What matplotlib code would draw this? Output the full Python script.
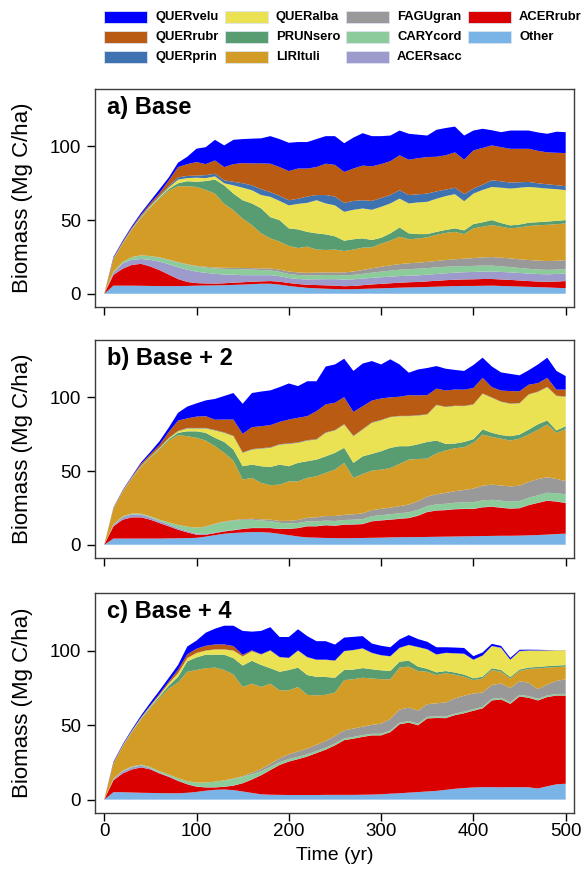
import matplotlib
matplotlib.use('Agg')
import matplotlib.pyplot as plt
from matplotlib.patches import Rectangle

plt.rcParams['font.family'] = ['Liberation Sans', 'DejaVu Sans']

years = list(range(0, 510, 10))

# stacking order, bottom to top
species = ['Other', 'ACERrubr', 'ACERsacc', 'CARYcord', 'FAGUgran', 'LIRItuli',
           'PRUNsero', 'QUERalba', 'QUERprin', 'QUERrubr', 'QUERvelu']
colors = ['#7ab3e6', '#db0000', '#9d9acc', '#8ccb9a', '#999999', '#d39c26',
          '#589d71', '#ebe253', '#3f72b0', '#ba5b14', '#0000ff']

# ---- a) Base (Mg C/ha, every 10 yr) ----
a_other = [0, 5.5, 5.5, 5.5, 5.4, 5.3, 5.2, 5.2, 5.2, 5.3,
           5.5, 5.6, 5.7, 5.8, 6.0, 6.2, 6.5, 6.8, 6.8, 6.2,
           5.3, 4.6, 4.0, 3.7, 3.4, 3.2, 3.0, 3.1, 3.3, 3.5,
           3.7, 3.9, 4.1, 4.3, 4.4, 4.6, 4.8, 5.0, 5.2, 5.3,
           5.3, 5.4, 5.5, 5.3, 5.1, 4.9, 4.7, 4.5, 4.3, 4.0,
           3.8]
a_acerrubr = [0, 7.3, 11.5, 14.1, 14.9, 13.2, 10.8, 7.8, 4.8, 2.7,
              1.7, 1.4, 1.2, 1.3, 1.5, 1.6, 1.7, 1.6, 1.8, 2.0,
              2.0, 2.0, 2.1, 2.2, 2.3, 2.3, 2.1, 2.2, 2.5, 2.8,
              3.0, 3.2, 3.4, 3.5, 3.6, 3.8, 4.0, 4.2, 4.3, 4.4,
              4.5, 4.6, 4.5, 4.4, 4.3, 4.1, 3.9, 3.8, 3.8, 4.3,
              4.8]
a_acersacc = [0, 1.5, 3.7, 3.4, 3.3, 4.5, 5.8, 7.0, 8.0, 8.3,
              7.8, 7.2, 6.6, 6.0, 5.4, 4.8, 4.4, 4.2, 4.0, 3.7,
              3.4, 3.4, 3.6, 3.9, 4.2, 4.4, 4.5, 4.5, 4.5, 4.5,
              4.5, 4.5, 4.5, 4.5, 4.5, 4.5, 4.6, 4.7, 4.8, 4.9,
              5.0, 5.1, 5.1, 5.1, 5.1, 5.1, 5.1, 5.1, 5.1, 5.1,
              5.1]
a_carycord = [0, 0.6, 1.0, 1.8, 2.4, 2.5, 2.7, 3.0, 3.2, 3.4,
              3.5, 3.6, 3.7, 3.8, 3.9, 4.0, 3.8, 3.5, 3.2, 3.0,
              2.7, 2.7, 2.7, 2.8, 2.8, 2.8, 2.9, 3.0, 3.2, 3.5,
              3.8, 4.1, 4.3, 4.4, 4.5, 4.5, 4.5, 4.4, 4.3, 4.2,
              4.1, 4.0, 4.0, 3.8, 3.6, 3.4, 3.2, 3.1, 3.0, 3.0,
              3.0]
a_fagugran = [0, 0, 0, 0.1, 0.1, 0.1, 0.2, 0.2, 0.3, 0.3,
              0.4, 0.5, 0.6, 0.7, 0.8, 0.9, 1.0, 1.1, 1.3, 1.5,
              1.7, 1.8, 1.8, 1.8, 1.8, 1.8, 2.0, 2.3, 2.6, 3.0,
              3.3, 3.6, 3.8, 4.0, 4.1, 4.2, 4.4, 4.6, 4.8, 5.0,
              5.3, 5.6, 5.8, 5.9, 5.9, 5.9, 6.0, 6.0, 6.0, 6.0,
              6.1]
a_lirituli = [0, 8.6, 12.3, 18.6, 25.4, 32.9, 39.8, 46.8, 51.5, 53.0,
              53.6, 52.2, 50.2, 43.4, 39.1, 33.5, 29.2, 23.8, 20.5, 19.0,
              17.4, 16.5, 17.8, 15.6, 15.2, 15.5, 14.5, 14.9, 15.2, 14.2,
              15.7, 16.7, 18.6, 16.3, 16.4, 16.7, 17.7, 18.4, 18.6, 16.7,
              20.2, 20.8, 21.7, 21.0, 20.4, 21.6, 23.1, 24.0, 24.6, 24.8,
              24.9]
a_prunsero = [0, 0.2, 0.2, 0.3, 0.5, 0.5, 0.7, 1.2, 2.0, 3.4,
              3.5, 6.0, 9.5, 12.6, 11.3, 12.5, 14.7, 17.0, 14.4, 14.6,
              11.9, 12.7, 10.0, 11.0, 10.6, 9.0, 7.0, 7.0, 6.3, 5.0,
              4.0, 5.0, 6.3, 4.0, 3.0, 2.2, 2.0, 2.0, 2.4, 2.5,
              2.9, 3.0, 3.4, 2.5, 2.0, 2.0, 2.2, 2.1, 2.2, 2.3,
              2.3]
a_queralba = [0, 0.1, 0.2, 0.2, 0.3, 0.5, 0.8, 1.0, 2.5, 2.1,
              2.8, 2.0, 2.2, 1.4, 5.6, 8.5, 9.0, 9.0, 13.8, 13.0,
              15.6, 17.3, 19.7, 22.5, 21.0, 21.0, 19.6, 20.0, 20.3, 20.5,
              21.0, 20.3, 19.6, 20.3, 21.5, 21.9, 22.5, 23.0, 23.2, 19.8,
              20.7, 22.0, 22.5, 24.0, 25.0, 25.0, 24.3, 23.4, 22.4, 21.5,
              20.3]
a_querprin = [0, 0.2, 0.2, 0.3, 0.4, 0.5, 0.7, 1.0, 1.5, 1.5,
              1.4, 2.0, 1.8, 2.0, 2.4, 3.0, 3.3, 4.0, 3.2, 3.5,
              3.5, 3.5, 4.3, 3.5, 5.7, 6.0, 6.1, 6.0, 5.6, 6.0,
              6.0, 5.7, 5.7, 5.7, 5.5, 5.6, 5.0, 4.4, 4.4, 4.8,
              3.4, 3.5, 4.5, 4.3, 4.1, 3.7, 3.4, 3.0, 2.9, 2.7,
              2.7]
a_querrubr = [0, 0.4, 0.6, 0.7, 1.0, 1.5, 1.8, 3.8, 7.0, 8.0,
              9.2, 7.5, 9.0, 9.0, 12.0, 13.7, 14.9, 17.5, 19.3, 19.5,
              19.8, 20.5, 19.0, 19.0, 21.3, 21.5, 21.0, 22.0, 23.5, 23.5,
              23.0, 23.0, 23.7, 24.0, 24.5, 24.8, 23.5, 23.3, 24.0, 23.4,
              25.9, 25.0, 23.7, 23.2, 22.9, 22.7, 22.5, 22.0, 21.7, 22.0,
              22.5]
a_quervelu = [0, 0.6, 0.8, 1.0, 1.3, 1.5, 2.5, 2.0, 3.0, 5.0,
              9.1, 11.5, 14.0, 14.7, 16.5, 16.3, 16.8, 17.0, 18.7, 19.0,
              19.2, 18.0, 18.0, 19.0, 18.7, 19.5, 19.5, 21.0, 22.0, 20.5,
              19.0, 17.4, 16.8, 17.6, 16.0, 14.6, 18.3, 18.5, 17.5, 16.4,
              13.5, 13.0, 10.3, 10.2, 12.4, 12.4, 12.4, 12.5, 12.6, 14.3,
              14.2]

# ---- b) Base + 2 ----
b_other = [0, 4.2, 4.2, 4.2, 4.2, 4.2, 4.2, 4.3, 4.4, 4.5,
           4.7, 5.5, 6.5, 7.5, 8.0, 8.3, 8.6, 8.6, 8.2, 7.4,
           6.5, 5.6, 5.0, 4.8, 4.6, 4.5, 4.4, 4.5, 4.6, 4.7,
           4.8, 5.0, 5.1, 5.2, 5.2, 5.3, 5.4, 5.5, 5.6, 5.7,
           5.8, 5.9, 6.0, 6.1, 6.1, 6.2, 6.4, 6.6, 6.9, 7.3,
           7.5]
b_acerrubr = [0, 8.3, 12.8, 14.4, 14.4, 12.8, 10.5, 8.2, 5.8, 3.9,
              2.1, 1.3, 1.4, 1.5, 1.8, 2.4, 2.7, 2.7, 3.1, 3.3,
              4.2, 5.7, 7.5, 7.7, 8.6, 8.4, 9.2, 9.2, 9.4, 11.2,
              11.7, 12.0, 12.5, 12.9, 14.5, 16.9, 17.8, 18.0, 18.5, 18.6,
              18.5, 19.5, 19.8, 19.0, 18.4, 18.6, 20.5, 21.8, 23.0, 22.0,
              20.8]
b_acersacc = [0, 1.0, 1.8, 2.0, 1.8, 1.5, 1.3, 1.2, 1.0, 0.8,
              0.7, 0.5, 0.4, 0.3, 0.3, 0.2, 0.2, 0.2, 0.2, 0.2,
              0.2, 0.2, 0.2, 0.2, 0.2, 0.2, 0.2, 0.2, 0.2, 0.2,
              0.2, 0.2, 0.2, 0.2, 0.2, 0.2, 0.2, 0.2, 0.2, 0.2,
              0.2, 0.2, 0.2, 0.2, 0.2, 0.2, 0.2, 0.2, 0.2, 0.2,
              0.2]
b_carycord = [0, 0.3, 0.5, 0.6, 0.7, 0.8, 1.0, 1.5, 2.2, 3.0,
              4.0, 5.0, 5.8, 6.2, 6.2, 6.0, 5.5, 5.0, 4.5, 4.0,
              3.6, 3.3, 3.2, 3.1, 3.0, 3.0, 3.0, 3.1, 3.2, 3.3,
              3.4, 3.5, 3.6, 3.7, 3.8, 3.9, 4.0, 4.1, 4.2, 4.3,
              4.4, 4.5, 4.5, 4.6, 4.6, 4.7, 4.8, 5.0, 5.2, 5.5,
              5.7]
b_fagugran = [0, 0, 0, 0, 0, 0, 0, 0, 0.1, 0.1,
              0.1, 0.1, 0.2, 0.3, 0.4, 0.5, 0.6, 0.8, 1.0, 1.3,
              1.7, 2.0, 2.4, 2.8, 3.2, 3.4, 3.5, 3.7, 3.9, 4.1,
              4.3, 4.5, 4.8, 5.3, 5.9, 6.4, 6.9, 7.4, 7.9, 8.4,
              9.2, 10.0, 10.3, 10.3, 10.3, 10.4, 10.8, 11.0, 10.5, 9.7,
              9.0]
b_lirituli = [0, 10.7, 16.7, 23.8, 31.9, 39.7, 47.6, 55.5, 60.9, 61.4,
              61.0, 58.3, 52.6, 46.6, 40.3, 26.8, 27.8, 24.7, 23.4, 24.6,
              26.8, 26.2, 27.1, 27.9, 29.2, 31.5, 35.3, 24.7, 26.7, 26.8,
              26.6, 26.8, 28.7, 30.5, 28.6, 25.8, 27.7, 28.8, 29.1, 29.0,
              31.1, 34.7, 32.4, 31.8, 31.1, 31.9, 32.1, 33.4, 35.8, 31.3,
              35.3]
b_prunsero = [0, 0.1, 0.2, 0.3, 0.4, 0.5, 0.7, 1.0, 1.6, 3.3,
              4.4, 5.3, 5.7, 7.4, 7.6, 9.1, 9.0, 11.3, 12.4, 13.6,
              10.3, 12.6, 11.3, 11.3, 11.2, 11.4, 10.2, 10.2, 12.0, 11.4,
              12.5, 13.8, 12.0, 9.1, 10.0, 11.3, 8.7, 4.5, 3.2, 3.6,
              2.5, 3.5, 2.8, 2.5, 3.0, 2.8, 3.4, 3.8, 2.8, 1.6,
              2.0]
b_queralba = [0, 0.1, 0.1, 0.2, 0.2, 0.3, 0.4, 0.6, 1.0, 2.0,
              2.0, 3.0, 5.0, 6.2, 9.1, 9.1, 10.2, 12.0, 13.0, 13.6,
              15.2, 13.6, 14.0, 13.6, 16.0, 15.2, 15.8, 18.1, 18.2, 21.1,
              21.0, 20.8, 20.4, 20.4, 19.5, 18.6, 24.1, 25.0, 25.5, 24.3,
              23.5, 24.2, 23.8, 22.5, 22.0, 21.2, 23.8, 22.0, 22.6, 23.4,
              20.0]
b_querprin = [0, 0.1, 0.1, 0.2, 0.2, 0.2, 0.2, 0.3, 0.3, 0.3,
              0.3, 0.3, 0.3, 0.3, 0.3, 0.3, 0.3, 0.3, 0.3, 0.3,
              0.3, 0.3, 0.3, 0.3, 0.3, 0.3, 0.3, 0.3, 0.3, 0.3,
              0.3, 0.2, 0.2, 0.2, 0.2, 0.2, 0.2, 0.2, 0.2, 0.2,
              0.2, 0.2, 0.2, 0.2, 0.2, 0.2, 0.2, 0.2, 0.2, 0.2,
              0.2]
b_querrubr = [0, 0.3, 0.4, 0.5, 1.2, 1.5, 2.0, 4.0, 7.0, 6.5,
              7.7, 8.0, 7.0, 8.7, 11.0, 12.6, 14.9, 14.9, 15.1, 15.1,
              16.2, 16.7, 16.3, 19.0, 19.0, 18.5, 18.3, 16.2, 15.5, 14.8,
              14.5, 13.3, 13.0, 14.0, 13.5, 13.0, 11.0, 11.0, 11.0, 11.0,
              11.0, 10.6, 7.0, 7.5, 8.4, 8.0, 6.5, 5.7, 6.1, 4.1,
              4.6]
b_quervelu = [0, 0.2, 0.3, 0.5, 1.0, 1.5, 2.5, 3.0, 5.3, 8.0,
              9.0, 10.7, 14.1, 16.0, 18.0, 20.4, 23.2, 23.5, 23.6, 23.6,
              24.5, 21.5, 23.7, 20.3, 25.7, 26.0, 26.1, 27.8, 29.0, 26.8,
              23.1, 25.8, 21.9, 15.3, 17.6, 18.4, 15.3, 14.8, 13.3, 12.7,
              15.6, 13.7, 14.0, 12.3, 11.7, 10.8, 9.8, 12.7, 13.7, 12.7,
              9.2]

# ---- c) Base + 4 ----
c_other = [0, 5.0, 5.0, 4.8, 4.6, 4.5, 4.4, 4.3, 4.3, 4.6,
           5.2, 6.0, 6.6, 6.8, 6.4, 5.5, 4.5, 3.6, 3.3, 3.2,
           3.1, 3.1, 3.1, 3.1, 3.2, 3.2, 3.2, 3.2, 3.3, 3.4,
           3.6, 4.0, 4.3, 4.7, 5.1, 5.5, 5.9, 6.6, 7.3, 7.8,
           8.2, 8.4, 8.4, 8.3, 8.4, 8.4, 8.3, 7.5, 9.0, 10.3,
           10.7]
c_acerrubr = [0, 8.0, 12.6, 15.5, 17.1, 15.8, 13.2, 11.0, 8.3, 5.7,
              3.5, 2.2, 1.6, 1.8, 3.0, 5.5, 9.0, 12.8, 16.6, 20.1,
              22.5, 24.1, 25.9, 28.2, 30.4, 33.3, 36.8, 37.8, 38.9, 39.8,
              39.6, 41.4, 46.4, 47.1, 44.9, 49.1, 49.0, 48.2, 49.5, 50.3,
              51.6, 53.0, 58.3, 59.1, 56.0, 61.0, 60.2, 59.2, 60.0, 59.7,
              59.3]
c_acersacc = [0, 0.8, 1.5, 1.5, 1.2, 0.8, 0.5, 0.4, 0.3, 0.2,
              0.2, 0.1, 0.1, 0.1, 0.1, 0.1, 0.1, 0.1, 0.1, 0.1,
              0.1, 0.1, 0.1, 0.1, 0.1, 0.1, 0.1, 0.1, 0.1, 0.1,
              0.1, 0.1, 0.1, 0.1, 0.1, 0.1, 0.1, 0.1, 0.1, 0.1,
              0.1, 0.1, 0.1, 0.1, 0.1, 0.1, 0.1, 0.1, 0.1, 0.1,
              0.1]
c_carycord = [0, 0.3, 0.4, 0.5, 0.6, 0.8, 1.0, 1.2, 1.5, 2.0,
              2.6, 3.2, 3.8, 4.3, 4.5, 4.2, 3.5, 2.6, 2.0, 1.8,
              1.6, 1.5, 1.4, 1.3, 1.2, 1.2, 1.1, 1.1, 1.1, 1.0,
              1.0, 1.0, 1.0, 1.0, 1.0, 1.0, 1.0, 1.0, 1.0, 1.0,
              1.0, 1.0, 1.0, 1.0, 1.0, 1.0, 1.0, 1.0, 1.0, 1.0,
              1.0]
c_fagugran = [0, 0, 0, 0, 0, 0, 0, 0, 0, 0,
              0, 0, 0, 0, 0.2, 0.5, 1.0, 1.5, 2.0, 2.6,
              3.2, 3.6, 3.9, 4.2, 4.6, 5.0, 5.4, 5.6, 5.7, 6.0,
              6.8, 7.8, 8.8, 9.0, 8.8, 8.5, 8.8, 9.5, 10.2, 10.7,
              10.5, 9.6, 9.4, 9.6, 9.6, 9.2, 9.0, 6.5, 7.3, 8.8,
              9.8]
c_lirituli = [0, 10.4, 16.3, 23.1, 30.5, 39.5, 49.2, 57.8, 64.4, 73.5,
              75.7, 76.9, 76.7, 74.2, 70.0, 60.0, 59.9, 55.2, 54.0, 45.7,
              43.0, 43.4, 36.1, 33.2, 31.0, 29.2, 33.8, 33.2, 32.9, 31.2,
              29.9, 26.7, 28.2, 27.6, 26.6, 21.8, 19.0, 19.6, 15.9, 12.7,
              9.0, 9.4, 10.0, 7.9, 6.4, 6.8, 9.3, 14.0, 11.4, 9.3,
              8.6]
c_prunsero = [0, 0.2, 0.3, 0.4, 0.6, 0.8, 1.2, 2.0, 3.8, 7.0,
              8.5, 9.1, 8.7, 10.3, 11.0, 14.4, 15.4, 14.8, 10.4, 12.5,
              13.7, 13.0, 13.3, 12.5, 12.0, 10.0, 6.8, 6.5, 6.5, 6.2,
              6.0, 5.5, 4.0, 4.0, 3.0, 2.0, 1.8, 1.5, 1.5, 1.5,
              1.2, 1.2, 1.2, 1.2, 1.0, 1.0, 1.0, 1.0, 1.0, 1.0,
              1.0]
c_queralba = [0, 0.1, 0.2, 0.3, 0.4, 0.6, 0.9, 1.5, 2.4, 2.2,
              2.9, 2.7, 3.5, 3.5, 5.0, 6.1, 6.4, 6.9, 11.8, 9.7,
              8.0, 11.4, 11.9, 11.4, 11.5, 11.4, 12.6, 13.0, 13.1, 10.9,
              10.0, 9.8, 9.2, 10.4, 13.0, 13.0, 11.9, 12.1, 12.8, 13.9,
              12.4, 14.1, 14.8, 14.8, 11.5, 12.3, 11.3, 10.9, 10.4, 10.0,
              9.7]
c_querprin = [0, 0, 0.1, 0.1, 0.1, 0.1, 0.1, 0.1, 0.1, 0.1,
              0.1, 0.1, 0.1, 0.1, 0.1, 0.1, 0.1, 0.1, 0.1, 0.1,
              0.1, 0.1, 0.1, 0.1, 0.1, 0.1, 0.1, 0.1, 0.1, 0.1,
              0.1, 0.1, 0.1, 0.1, 0.1, 0.1, 0.1, 0.1, 0.1, 0.1,
              0.1, 0.1, 0.1, 0.1, 0.1, 0.1, 0.1, 0.1, 0.1, 0.1,
              0.1]
c_querrubr = [0, 0.1, 0.2, 0.3, 0.4, 0.6, 0.8, 1.2, 2.3, 2.5,
              2.8, 3.2, 3.3, 3.3, 3.0, 1.0, 0.5, 0.3, 0.2, 0.2,
              0.1, 0.1, 0.1, 0.1, 0.1, 0.1, 0.1, 0.1, 0.1, 0.1,
              0.1, 0.1, 0.1, 0.1, 0.1, 0.1, 0.1, 0.1, 0.1, 0.1,
              0.1, 0.1, 0.1, 0.1, 0.1, 0.1, 0.1, 0.1, 0.1, 0.1,
              0.1]
c_quervelu = [0, 0.6, 0.6, 0.8, 1.2, 1.8, 2.2, 2.5, 3.2, 5.2,
              5.5, 8.8, 10.6, 12.6, 13.7, 16.1, 12.6, 15.6, 15.5, 13.4,
              14.0, 14.2, 14.1, 12.4, 12.4, 10.7, 9.0, 8.8, 8.2, 6.2,
              6.3, 6.0, 5.6, 6.6, 5.3, 5.0, 4.8, 3.7, 3.8, 3.8,
              2.3, 2.0, 1.4, 1.2, 1.2, 0.8, 0.5, 0.4, 0.2, 0.0,
              0.0]

panels = [
    ('a) Base', [a_other, a_acerrubr, a_acersacc, a_carycord, a_fagugran, a_lirituli,
                 a_prunsero, a_queralba, a_querprin, a_querrubr, a_quervelu]),
    ('b) Base + 2', [b_other, b_acerrubr, b_acersacc, b_carycord, b_fagugran, b_lirituli,
                     b_prunsero, b_queralba, b_querprin, b_querrubr, b_quervelu]),
    ('c) Base + 4', [c_other, c_acerrubr, c_acersacc, c_carycord, c_fagugran, c_lirituli,
                     c_prunsero, c_queralba, c_querprin, c_querrubr, c_quervelu]),
]

W, H = 584, 876
fig = plt.figure(figsize=(W / 100, H / 100), dpi=100)

# axes boxes in pixels: (left, top, right, bottom)
boxes = [(95, 89, 574, 307), (95, 340, 574, 558), (95, 593, 574, 813)]
frame = '#3c3c3c'

for i, ((label, layers), (l, t, r, b)) in enumerate(zip(panels, boxes)):
    ax = fig.add_axes([l / W, 1 - b / H, (r - l) / W, (b - t) / H])
    ax.stackplot(years, *layers, colors=colors, linewidth=0)
    ax.set_xlim(-10, 509)
    ax.set_ylim(-9, 139)
    ax.set_yticks([0, 50, 100])
    ax.set_xticks([0, 100, 200, 300, 400, 500])
    ax.tick_params(direction='out', length=5.5, width=1, labelsize=13.5,
                   color='black')
    ax.tick_params(axis='y', pad=4.5)
    ax.tick_params(axis='x', pad=1.5)
    if i < 2:
        ax.tick_params(axis='x', labelbottom=False)
    else:
        ax.set_xlabel('Time (yr)', fontsize=14, labelpad=5)
    for s in ax.spines.values():
        s.set_color(frame)
        s.set_linewidth(1.0)
    ax.set_ylabel('Biomass (Mg C/ha)', fontsize=16)
    ax.yaxis.set_label_coords(-0.129, 0.5)
    ax.text(0.026, 0.915, label, transform=ax.transAxes, fontsize=17,
            fontweight='bold', va='center', ha='left')

# legend, top of stack first, filled column by column
col_x = [104, 225, 346, 468]
row_y = [17, 37, 57]
for k, (name, col) in enumerate(zip(species[::-1], colors[::-1])):
    x = col_x[k // 3]
    y = row_y[k % 3]
    fig.add_artist(Rectangle((x / W, 1 - (y + 6) / H), 43 / W, 12 / H,
                             transform=fig.transFigure, facecolor=col,
                             edgecolor='#dde4f0', linewidth=0.6))
    fig.text((x + 51) / W, 1 - y / H, name, fontsize=9.4, fontweight='bold',
             va='center', ha='left')

fig.savefig('out.png', dpi=100)
